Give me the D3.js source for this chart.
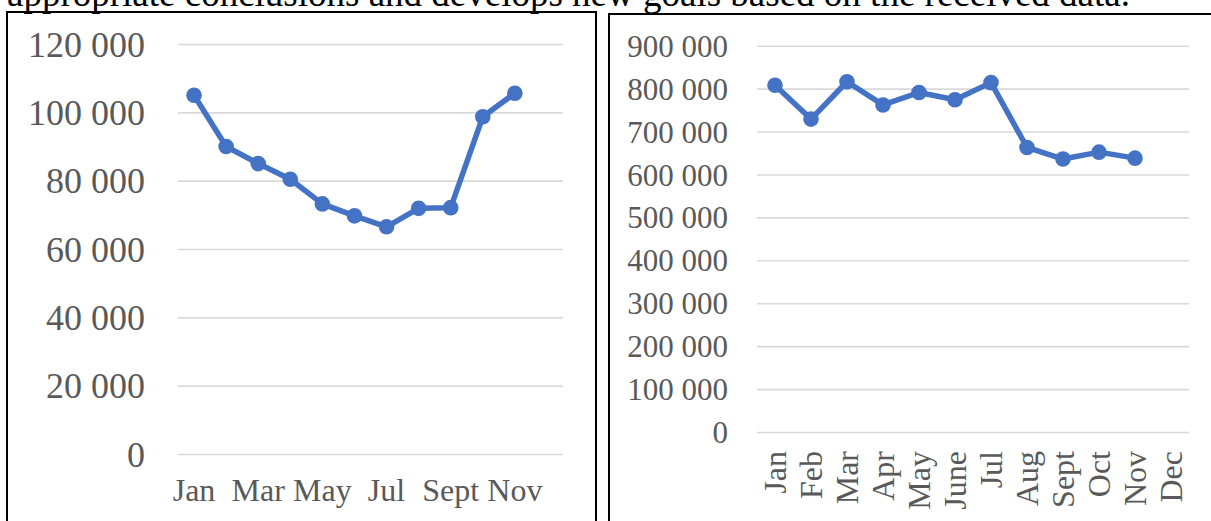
<!DOCTYPE html>
<html>
<head>
<meta charset="utf-8">
<script src="https://cdn.jsdelivr.net/npm/d3@7"></script>
<style>
  body { margin: 0; background: #fff; }
  svg { display: block; }
  text { font-family: "Liberation Serif", "Times New Roman", serif; }
</style>
</head>
<body>
<div id="chart"></div>
<script>
const months = ["Jan", "Feb", "Mar", "Apr", "May", "June", "Jul", "Aug", "Sept", "Oct", "Nov", "Dec"]
const leftLabels = ["Jan", "Mar", "May", "Jul", "Sept", "Nov"]
const leftValues = [105000, 90000, 85000, 80400, 73200, 69700, 66500, 71900, 72100, 98700, 105600]
const rightValues = [808000, 729000, 816000, 762000, 791000, 774000, 814000, 663000, 636000, 652000, 638000]
const leftTicks = [0, 20000, 40000, 60000, 80000, 100000, 120000]
const rightTicks = [0, 100000, 200000, 300000, 400000, 500000, 600000, 700000, 800000, 900000]
const caption = "appropriate conclusions and develops new goals based on the received data."

const width = 1211
const height = 521
const blue = "#4472C4"
const grid = "#d9d9d9"
const labelColor = "#595959"

const fmt = d3.formatLocale({decimal: ",", thousands: " ", grouping: [3], currency: ["", ""]}).format(",d")

const svg = d3.select("#chart").append("svg")
    .attr("width", width)
    .attr("height", height)

// text of the page above the charts, cut off by the top edge
svg.append("text")
    .attr("x", 7)
    .attr("y", 6)
    .attr("font-size", 37)
    .attr("fill", "#000")
    .text(caption)

// the two chart frames
svg.append("rect")
    .attr("x", 7).attr("y", 12)
    .attr("width", 589).attr("height", 530)
    .attr("fill", "none").attr("stroke", "#000").attr("stroke-width", 2)
svg.append("rect")
    .attr("x", 609).attr("y", 14)
    .attr("width", 620).attr("height", 530)
    .attr("fill", "none").attr("stroke", "#000").attr("stroke-width", 2)

function drawChart(opt) {
    const x = d3.scaleBand()
        .domain(months)
        .range([opt.x0, opt.x1])
        .padding(0)
    const y = d3.scaleLinear()
        .domain([0, opt.max])
        .range([opt.y0, opt.y1])

    const g = svg.append("g")

    const yAxis = g.append("g")
        .attr("transform", `translate(${opt.x0},0)`)
        .call(d3.axisLeft(y)
            .tickValues(opt.ticks)
            .tickSize(-(opt.x1 - opt.x0))
            .tickPadding(opt.labelGap)
            .tickFormat(fmt))
    yAxis.select(".domain").remove()
    yAxis.selectAll(".tick line")
        .attr("stroke", grid)
        .attr("stroke-width", 1.6)
    yAxis.selectAll(".tick text")
        .attr("fill", labelColor)
        .attr("font-size", opt.yFont)
        .attr("font-family", "Liberation Serif, Times New Roman, serif")
        .attr("dy", "0.34em")

    const xAxis = g.append("g")
        .attr("transform", `translate(0,${opt.y0})`)
        .call(d3.axisBottom(x)
            .tickValues(opt.xLabels)
            .tickSize(0)
            .tickPadding(0))
    xAxis.select(".domain").remove()
    const xt = xAxis.selectAll(".tick text")
        .attr("fill", labelColor)
        .attr("font-size", opt.xFont)
        .attr("font-family", "Liberation Serif, Times New Roman, serif")
    if (opt.rotate) {
        xt.attr("text-anchor", "end")
            .attr("transform", `translate(0,${opt.xLabelY}) rotate(-90)`)
            .attr("y", 0)
            .attr("dy", "0.33em")
    } else {
        xt.attr("y", opt.xLabelY).attr("dy", 0)
    }

    const pts = opt.values.map((v, i) => ({m: months[i], v: v}))
    const cx = d => x(d.m) + x.bandwidth() / 2

    g.append("path")
        .datum(pts)
        .attr("fill", "none")
        .attr("stroke", blue)
        .attr("stroke-width", 5.5)
        .attr("stroke-linejoin", "round")
        .attr("stroke-linecap", "round")
        .attr("d", d3.line().x(cx).y(d => y(d.v)))

    g.selectAll("circle")
        .data(pts)
        .enter().append("circle")
        .attr("cx", cx)
        .attr("cy", d => y(d.v))
        .attr("r", 7.8)
        .attr("fill", blue)
}

drawChart({
    x0: 178, x1: 563, y0: 454, y1: 44, max: 120000,
    ticks: leftTicks, values: leftValues, xLabels: leftLabels,
    yFont: 36, xFont: 32, labelGap: 33, xLabelY: 47, rotate: false
})

drawChart({
    x0: 757, x1: 1189, y0: 432, y1: 45.7, max: 900000,
    ticks: rightTicks, values: rightValues, xLabels: months,
    yFont: 31, xFont: 32, labelGap: 29, xLabelY: 19, rotate: true
})
</script>
</body>
</html>
